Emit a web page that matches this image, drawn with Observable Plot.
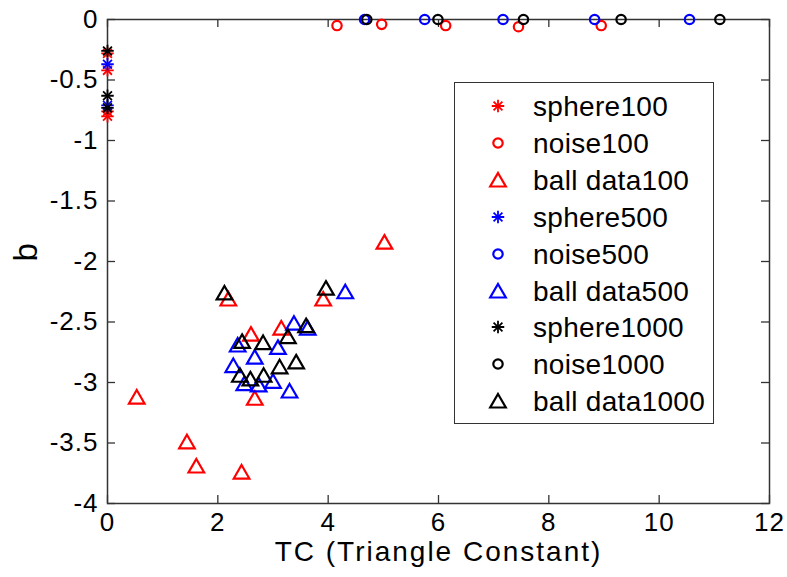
<!DOCTYPE html>
<html>
<head>
<meta charset="utf-8">
<script src="https://cdn.jsdelivr.net/npm/d3@7"></script>
<script src="https://cdn.jsdelivr.net/npm/@observablehq/plot@0.6"></script>
<style>
  body { margin: 0; background: #fff; }
  #chart { position: relative; width: 787px; height: 577px; font-family: "Liberation Sans", Arial, sans-serif; }
  #legend { position: absolute; left: 454px; top: 82px; width: 258px; height: 340px; border: 1px solid #333; background: #fff; }
  .row { position: absolute; left: 0; height: 30px; width: 258px; }
  .row svg { position: absolute; left: 28px; top: 0; }
  .row span { position: absolute; left: 78px; top: 1px; font-size: 28px; letter-spacing: 0.3px; line-height: 30px; color: #000; white-space: nowrap; }
</style>
</head>
<body>
<div id="chart"></div>
<script>
// ---- data ----
const xTicks = [0, 2, 4, 6, 8, 10, 12];
const xTickLabels = ["0", "2", "4", "6", "8", "10", "12"];
const yTicks = [0, -0.5, -1, -1.5, -2, -2.5, -3, -3.5, -4];
const yTickLabels = ["0", "-0.5", "-1", "-1.5", "-2", "-2.5", "-3", "-3.5", "-4"];

const sphere100TC = [0, 0, 0, 0];
const sphere100B = [-0.28, -0.42, -0.76, -0.80];
const noise100TC = [4.16, 4.97, 6.13, 7.45, 8.95];
const noise100B = [-0.05, -0.04, -0.05, -0.06, -0.05];
const ball100TC = [5.02, 2.19, 3.91, 2.60, 3.15, 0.53, 2.67, 1.44, 1.61, 2.43];
const ball100B = [-1.84, -2.31, -2.31, -2.60, -2.55, -3.12, -3.13, -3.49, -3.69, -3.74];

const sphere500TC = [0, 0];
const sphere500B = [-0.37, -0.71];
const noise500TC = [4.66, 5.75, 7.17, 8.83, 10.55];
const noise500B = [0, 0, 0, 0, 0];
const ball500TC = [4.31, 3.38, 3.63, 2.36, 3.09, 2.67, 2.28, 2.48, 2.74, 3.00, 3.30];
const ball500B = [-2.25, -2.51, -2.55, -2.69, -2.71, -2.79, -2.86, -3.01, -3.02, -2.99, -3.07];

const sphere1000TC = [0, 0, 0];
const sphere1000B = [-0.26, -0.63, -0.73];
const noise1000TC = [4.70, 5.99, 7.54, 9.31, 11.10];
const noise1000B = [0, 0, 0, 0, 0];
const ball1000TC = [2.12, 3.96, 3.60, 2.44, 2.82, 3.27, 3.12, 3.42, 2.40, 2.59, 2.83];
const ball1000B = [-2.26, -2.22, -2.53, -2.66, -2.67, -2.62, -2.87, -2.83, -2.94, -2.97, -2.94];

const seriesNames = ["sphere100", "noise100", "ball data100", "sphere500", "noise500", "ball data500", "sphere1000", "noise1000", "ball data1000"];
const seriesColors = ["#ff0000", "#ff0000", "#ff0000", "#0000ff", "#0000ff", "#0000ff", "#000000", "#000000", "#000000"];
const seriesShapes = ["star", "circle", "triangle", "star", "circle", "triangle", "star", "circle", "triangle"];
const seriesTC = [sphere100TC, noise100TC, ball100TC, sphere500TC, noise500TC, ball500TC, sphere1000TC, noise1000TC, ball1000TC];
const seriesB = [sphere100B, noise100B, ball100B, sphere500B, noise500B, ball500B, sphere1000B, noise1000B, ball1000B];

// ---- layout ----
const W = 787, H = 577;
const mL = 107, mR = 18, mT = 19, mB = 74;
const plotW = W - mL - mR, plotH = H - mT - mB;
const tickLen = 8;
const axisColor = "#333";

const R = { circle: 4.7, triangle: 5.8, star: 4.1 };
const SW = { circle: 2.2, triangle: 2.2, star: 1.8 };

const marks = [];
seriesNames.forEach((name, i) => {
  const data = seriesTC[i].map((tc, j) => ({ tc, b: seriesB[i][j] }));
  const shape = seriesShapes[i];
  const base = { x: "tc", y: "b", stroke: seriesColors[i], fill: "none", strokeWidth: SW[shape], r: R[shape] };
  if (shape === "star") {
    marks.push(Plot.dot(data, { ...base, symbol: "plus" }));
    marks.push(Plot.dot(data, { ...base, symbol: "times" }));
  } else if (shape === "triangle") {
    marks.push(Plot.dot(data, { ...base, symbol: "triangle", dy: 2, strokeLinejoin: "miter" }));
  } else {
    marks.push(Plot.dot(data, { ...base, symbol: "circle" }));
  }
});

const chart = Plot.plot({
  width: W, height: H,
  marginLeft: mL, marginRight: mR, marginTop: mT, marginBottom: mB,
  style: { fontFamily: "'Liberation Sans', Arial, sans-serif", fontSize: "26px", color: "#000", background: "#fff", overflow: "visible" },
  x: { domain: [0, 12] },
  y: { domain: [-4, 0] },
  marks: [
    Plot.tickX(xTicks, { x: d => d, stroke: axisColor, strokeWidth: 1.3, insetTop: plotH - tickLen }),
    Plot.tickX(xTicks, { x: d => d, stroke: axisColor, strokeWidth: 1.3, insetBottom: plotH - tickLen }),
    Plot.tickY(yTicks, { y: d => d, stroke: axisColor, strokeWidth: 1.3, insetRight: plotW - tickLen }),
    Plot.tickY(yTicks, { y: d => d, stroke: axisColor, strokeWidth: 1.3, insetLeft: plotW - tickLen }),
    Plot.frame({ stroke: axisColor, strokeWidth: 1.5 }),
    Plot.axisX({ ticks: xTicks, tickSize: 0, tickPadding: 9, fontSize: 26, label: null,
      tickFormat: d => xTickLabels[xTicks.indexOf(d)] }),
    Plot.axisY({ ticks: yTicks, tickSize: 0, tickPadding: 9, fontSize: 26, label: null,
      tickFormat: d => yTickLabels[yTicks.indexOf(d)] }),
    Plot.text(["TC (Triangle Constant)"], { text: d => d, frameAnchor: "bottom", dy: 57, fontSize: 28, fill: "#000" }),
    Plot.text(["b"], { text: d => d, frameAnchor: "left", dx: -81, rotate: -90, fontSize: 33, fill: "#000" }),
    ...marks
  ]
});

const container = document.getElementById("chart");
container.appendChild(chart);
// letter spacing to match the wider glyph spacing of the reference
chart.querySelectorAll("text").forEach(t => {
  if (t.textContent === "TC (Triangle Constant)") t.setAttribute("letter-spacing", "2");
});
chart.querySelectorAll("g[aria-label='x-axis tick label'] text, g[aria-label='y-axis tick label'] text").forEach(t => {
  t.setAttribute("letter-spacing", "1");
});

// ---- legend (HTML overlay inside the axes) ----
const legend = document.createElement("div");
legend.id = "legend";
container.appendChild(legend);
const rowStart = 105 - 82 - 15, rowStep = 36.9;
seriesNames.forEach((name, i) => {
  const row = document.createElement("div");
  row.className = "row";
  row.style.top = (rowStart + i * rowStep) + "px";
  const shape = seriesShapes[i];
  const size = Math.PI * R[shape] * R[shape];
  let paths;
  if (shape === "star") paths = [d3.symbol(d3.symbolPlus, size)(), d3.symbol(d3.symbolTimes, size)()];
  else if (shape === "triangle") paths = [d3.symbol(d3.symbolTriangle, size)()];
  else paths = [d3.symbol(d3.symbolCircle, size)()];
  const dy = shape === "triangle" ? 2 : 0;
  const svg = `<svg width="30" height="30" viewBox="-15 -15 30 30">${paths.map(p =>
    `<path d="${p}" transform="translate(0,${dy})" fill="none" stroke="${seriesColors[i]}" stroke-width="${SW[shape]}" stroke-linejoin="miter"/>`).join("")}</svg>`;
  row.innerHTML = svg + `<span>${name}</span>`;
  legend.appendChild(row);
});
</script>
</body>
</html>
